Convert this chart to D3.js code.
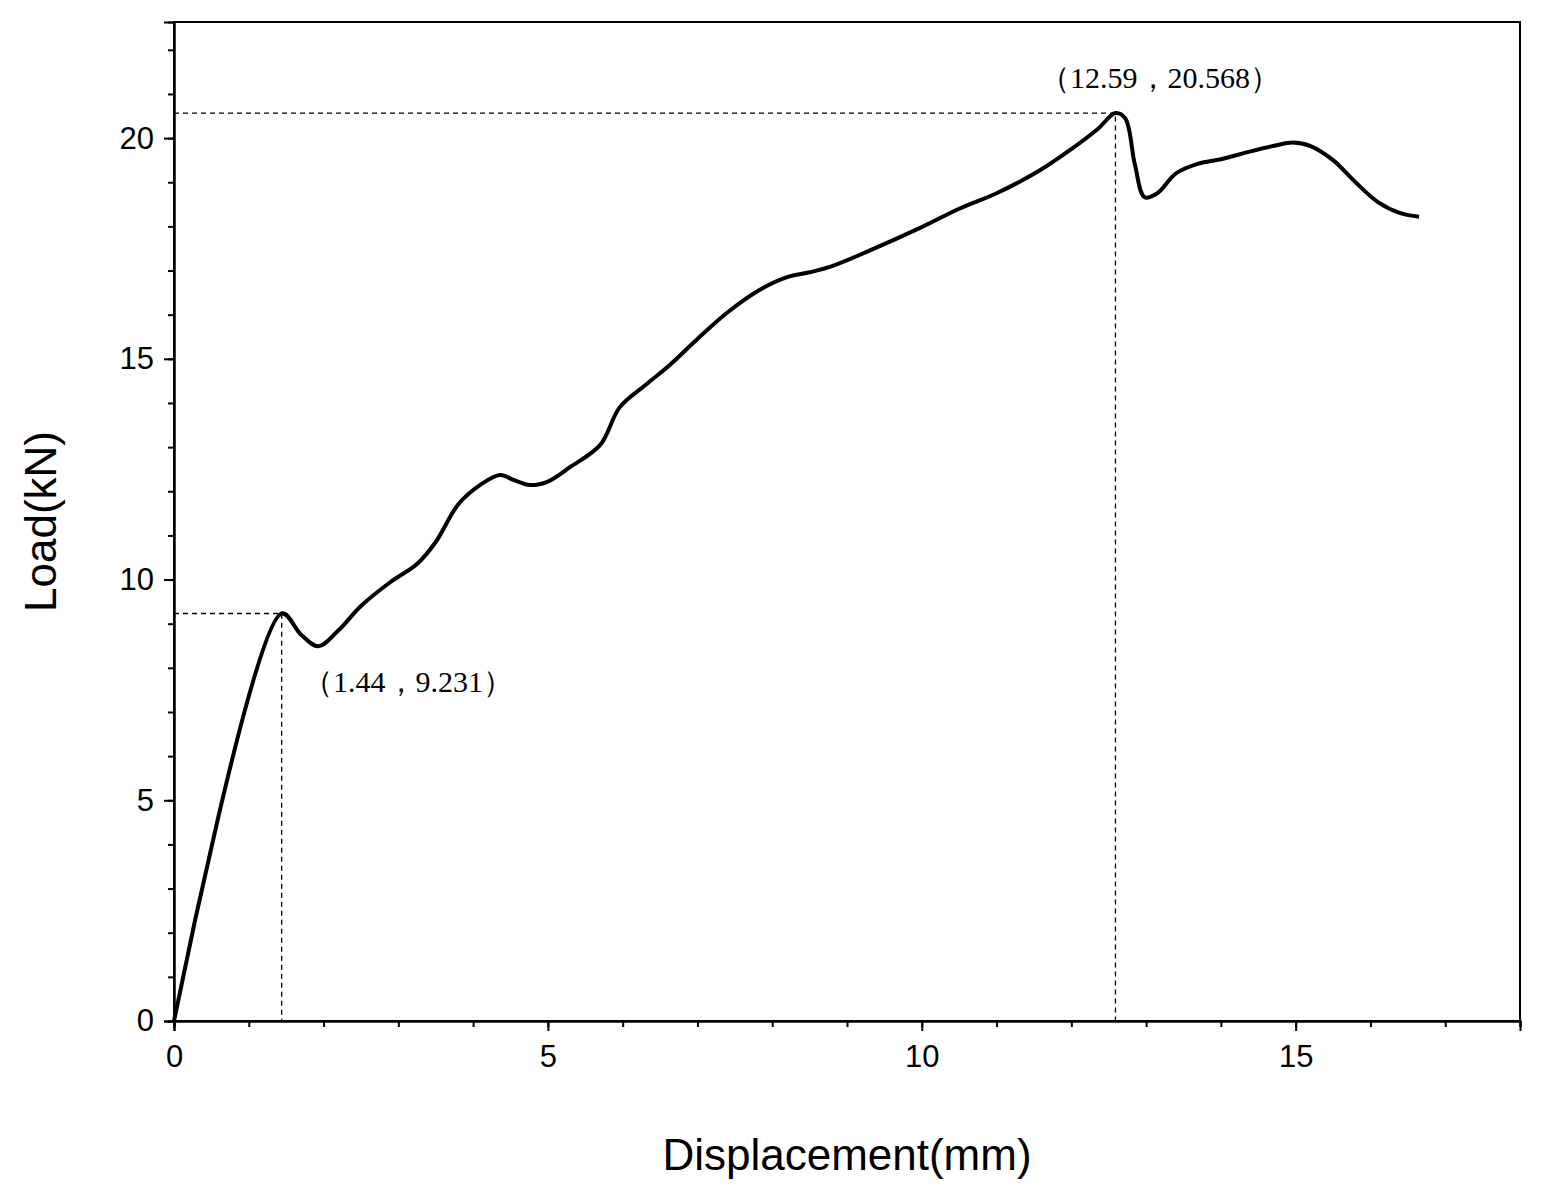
<!DOCTYPE html>
<html><head><meta charset="utf-8">
<script src="https://d3js.org/d3.v7.min.js"></script>
<style>body{margin:0;background:#fff}</style></head>
<body><svg id="c" width="1545" height="1196"></svg>
<script>
const disp = [0,1.44,1.7,1.93,2.2,2.5,2.9,3.25,3.5,3.8,4.1,4.36,4.55,4.76,5.0,5.3,5.7,5.96,6.3,6.63,7.0,7.4,7.83,8.2,8.5,8.8,9.3,9.97,10.5,11.0,11.58,12.0,12.35,12.59,12.72,12.85,12.98,13.15,13.4,13.7,14.0,14.4,14.7,14.96,15.2,15.5,15.8,16.1,16.4,16.65];
const load = [0,9.231,8.75,8.49,8.85,9.4,9.95,10.35,10.85,11.7,12.15,12.37,12.25,12.14,12.22,12.55,13.05,13.9,14.4,14.86,15.45,16.05,16.56,16.85,16.96,17.1,17.45,17.96,18.4,18.75,19.27,19.75,20.2,20.568,20.45,19.4,18.66,18.75,19.2,19.42,19.52,19.7,19.82,19.9,19.82,19.5,19.0,18.55,18.3,18.22];
const xTicks = [0,5,10,15];
const yTicks = [0,5,10,15,20];
const peaks = [{x:1.44,y:9.231,label:"（1.44，9.231）"},{x:12.59,y:20.568,label:"（12.59，20.568）"}];

const L=174,R=1520,T=22,B=1021;
const svg=d3.select("#c");
const x=d3.scaleLinear().domain([0,18]).range([L,R]);
const y=d3.scaleLinear().domain([0,22.63]).range([B,T]);

svg.append("rect").attr("x",L).attr("y",T).attr("width",R-L).attr("height",B-T).attr("fill","none").attr("stroke","#000").attr("stroke-width",2);

svg.append("g").attr("transform",`translate(0,${B})`)
 .call(d3.axisBottom(x).tickValues(xTicks).tickSize(10).tickPadding(14).tickFormat(d3.format("d")));
svg.append("g").attr("transform",`translate(0,${B})`)
 .call(d3.axisBottom(x).tickValues(d3.range(0,19,1)).tickSize(6).tickFormat(""));
svg.append("g").attr("transform",`translate(${L},0)`)
 .call(d3.axisLeft(y).tickValues(yTicks).tickSize(10).tickPadding(10).tickFormat(d3.format("d")));
svg.append("g").attr("transform",`translate(${L},0)`)
 .call(d3.axisLeft(y).tickValues(d3.range(0,23,1)).tickSize(6).tickFormat(""));
svg.selectAll(".domain").attr("stroke-width",2);
svg.selectAll(".tick line").attr("stroke-width",2);
svg.selectAll(".tick text").attr("font-family","Liberation Sans, Arial").attr("font-size",31).attr("fill","#000");

peaks.forEach(p=>{
 svg.append("path").attr("d",`M${x(0)},${y(p.y)}H${x(p.x)}V${y(0)}`).attr("fill","none")
  .attr("stroke","#000").attr("stroke-width",1.3).attr("stroke-dasharray","5,4");
});

svg.append("path").datum(disp.map((d,i)=>[d,load[i]]))
 .attr("d",d3.line().x(d=>x(d[0])).y(d=>y(d[1])).curve(d3.curveCatmullRom.alpha(0.5)))
 .attr("fill","none").attr("stroke","#000").attr("stroke-width",4).attr("stroke-linejoin","round");

const af="Noto Sans CJK SC";
svg.append("text").attr("x",303).attr("y",692)
 .attr("font-family","Liberation Serif, Times New Roman").attr("font-size",30).text(peaks[0].label);
svg.append("text").attr("x",1040).attr("y",88)
 .attr("font-family","Liberation Serif, Times New Roman").attr("font-size",30).text(peaks[1].label);

svg.append("text").attr("x",(L+R)/2).attr("y",1170).attr("text-anchor","middle")
 .attr("font-family","Liberation Sans, Arial").attr("font-size",44).text("Displacement(mm)");
svg.append("text").attr("transform",`translate(56,${(T+B)/2}) rotate(-90)`).attr("text-anchor","middle")
 .attr("font-family","Liberation Sans, Arial").attr("font-size",44).text("Load(kN)");
</script></body></html>
